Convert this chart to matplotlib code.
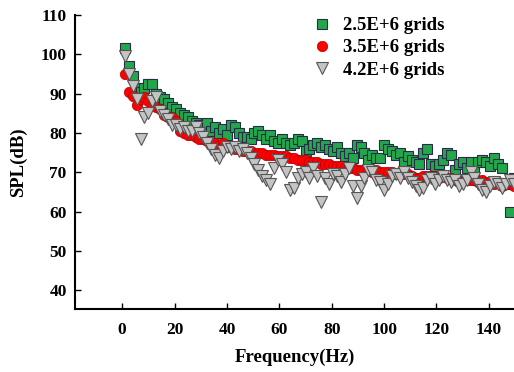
import numpy as np
import matplotlib
matplotlib.use("Agg")
import matplotlib.pyplot as plt

# ── Data ───────────────────────────────────────────────────────────────────────
freq = np.arange(1.0, 150.0, 1.5)  # sampling grid, Hz

spl_25 = [101.5, 97, 94.5, 91.5, 90.5, 91.5, 92.5, 92.5, 90, 89,
          88.5, 87.5, 86.5, 86, 85, 84.5, 84, 83, 82.5, 82,
          81.5, 82.5, 80.5, 81.5, 80, 81, 79.5, 82, 81.5, 80,
          79, 79, 78.5, 80, 80.5, 79.5, 78.5, 79.5, 78, 77.5,
          78.5, 77.5, 77, 77.5, 78.5, 78, 75.5, 76, 77, 77.5,
          76.5, 77, 76, 75.5, 76.5, 75, 74, 75, 73.5, 77,
          76.5, 75, 73, 74.5, 73.5, 73.5, 77, 76, 75.5, 74.5,
          75, 72.5, 74, 73, 72.5, 72, 75, 76, 72, 71.5,
          72, 73, 75, 74.5, 70.5, 72, 72.5, 71, 72.5, 70,
          72.5, 73, 72.5, 71.5, 73.5, 72, 71, 67, 60, 68.5]

spl_35 = [95, 90.5, 89.5, 87, 88.5, 89, 88, 87, 86.5, 86,
          84.5, 84, 84, 83, 80.5, 80, 79.5, 79.5, 79, 78.5,
          78.5, 78, 77.5, 77.5, 77, 77.5, 76.5, 76.5, 76, 76,
          75.5, 75.5, 75.5, 75, 75, 75, 74.5, 74.5, 74.5, 74,
          74, 74, 73.5, 73.5, 73, 73, 73, 72.5, 72.5, 72.5,
          72, 72, 72, 71.5, 71.5, 71.5, 71, 71, 71, 70.5,
          70.5, 70.5, 70.5, 70, 70.5, 70, 70, 70, 70, 69.5,
          70, 69.5, 69.5, 69, 68.5, 68.5, 69, 69, 69, 69,
          68.5, 69, 68.5, 68.5, 68, 68, 68, 68, 68, 68,
          67.5, 68, 67.5, 67.5, 67, 67.5, 66.5, 67, 67, 66.5]

spl_42 = [99.5, 95, 92, 88.5, 78.5, 84, 85, 88, 89, 85.5,
          84.5, 83.5, 82, 82, 81, 81.5, 80.5, 80.5, 81.5, 80,
          79, 77.5, 76, 74.5, 73.5, 75.5, 76.5, 76, 76.5, 75.5,
          76, 75, 73.5, 72, 70.5, 69, 68, 67, 71, 73,
          72, 70, 65.5, 66, 68.5, 69.5, 70, 68.5, 71, 69,
          62.5, 68.5, 67, 69.5, 69, 67.5, 69.5, 71, 66.5, 63.5,
          66.5, 68.5, 70.5, 70, 68, 67.5, 65.5, 67, 69, 69.5,
          68.5, 70, 68.5, 67.5, 66.5, 65.5, 66, 68, 68.5, 67,
          68, 69, 68, 67.5, 68, 66.5, 67, 68, 70, 68.5,
          67, 65.5, 65, 66.5, 67.5, 67, 66, 67, 68, 67]

labels = ['2.5E+6 grids', '3.5E+6 grids', '4.2E+6 grids']

# ── Plot ───────────────────────────────────────────────────────────────────────
plt.rcParams['font.family'] = ['Liberation Serif', 'DejaVu Serif']
plt.rcParams['font.weight'] = 'bold'

fig = plt.figure(figsize=(5.14, 3.72), dpi=100)
ax = fig.add_axes([0.146, 0.169, 0.854, 0.791])

ax.plot(freq, spl_25, ls='none', marker='s', ms=7.5, mfc='#22a84a',
        mec='#2a2a4a', mew=0.8, label=labels[0])
ax.plot(freq, spl_35, ls='none', marker='o', ms=7.5, mfc='#ff0000',
        mec='#b00000', mew=0.5, label=labels[1])
ax.plot(freq, spl_42, ls='none', marker='v', ms=8, mfc='#c4c4c4',
        mec='#555555', mew=0.8, label=labels[2])

ax.set_xlim(-18, 149.6)
ax.set_ylim(35.2, 110)
ax.set_xticks(range(0, 141, 20))
ax.set_yticks(range(40, 111, 10))

for side in ['top', 'right']:
    ax.spines[side].set_visible(False)
for side in ['left', 'bottom']:
    ax.spines[side].set_linewidth(1.5)

ax.tick_params(direction='in', length=4, width=1, labelsize=12.5)
ax.tick_params(axis='x', pad=9)
ax.tick_params(axis='y', pad=6)
for lbl in ax.get_xticklabels() + ax.get_yticklabels():
    lbl.set_fontweight('bold')

ax.set_xlabel('Frequency(Hz)', fontsize=13.5, fontweight='bold', labelpad=8)
ax.set_ylabel('SPL(dB)', fontsize=13.5, fontweight='bold', labelpad=10)

ax.legend(loc='upper left', bbox_to_anchor=(0.609, 0.954),
          bbox_transform=fig.transFigure, frameon=False,
          borderpad=0, borderaxespad=0,
          prop={'size': 13.5, 'weight': 'bold'}, handletextpad=0.6,
          labelspacing=0.27, handlelength=1.0)

fig.savefig('out.png', dpi=100)
plt.close(fig)
